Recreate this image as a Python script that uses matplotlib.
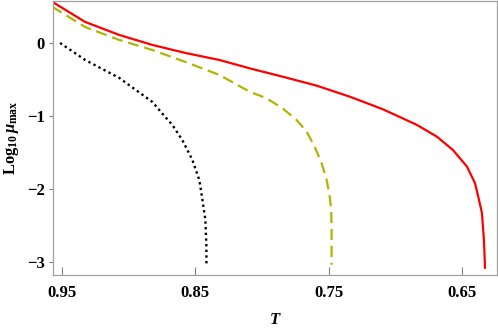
import numpy as np
import matplotlib
matplotlib.use("Agg")
from matplotlib import pyplot as plt

plt.rcParams['font.family'] = ['Liberation Serif', 'DejaVu Serif']
plt.rcParams['mathtext.fontset'] = 'custom'
plt.rcParams['mathtext.rm'] = 'Liberation Serif:bold'
plt.rcParams['mathtext.it'] = 'Liberation Serif:italic:bold'
plt.rcParams['mathtext.bf'] = 'Liberation Serif:bold'

# values
T_red = [0.9575, 0.9327, 0.9071, 0.8823, 0.8575, 0.8320, 0.8094, 0.7846,
         0.7590, 0.7342, 0.7094, 0.6838, 0.6688, 0.6568, 0.6462, 0.6402,
         0.6372, 0.6350, 0.6335, 0.6327]
mu_red = [0.566, 0.288, 0.110, -0.027, -0.137, -0.233, -0.347, -0.462,
          -0.585, -0.736, -0.908, -1.123, -1.284, -1.466, -1.695, -1.922,
          -2.151, -2.33, -2.70, -3.08]

T_yel = [0.9575, 0.9327, 0.9071, 0.8823, 0.8575, 0.8320, 0.8094, 0.7966,
         0.7846, 0.7741, 0.7665, 0.7605, 0.7553, 0.7515, 0.7492, 0.7481,
         0.7478, 0.7478]
mu_yel = [0.497, 0.219, 0.041, -0.096, -0.26, -0.438, -0.667, -0.758,
          -0.895, -1.055, -1.215, -1.421, -1.648, -1.877, -2.105, -2.29,
          -2.52, -3.04]

T_blk = [0.9515, 0.9327, 0.9071, 0.8823, 0.8718, 0.8673, 0.8598, 0.8523,
         0.8470, 0.8447, 0.8425, 0.8417, 0.8417]
mu_blk = [0.0, -0.233, -0.479, -0.808, -1.03, -1.123, -1.33, -1.60,
          -1.88, -2.15, -2.42, -2.79, -3.04]

xticks = [0.95, 0.85, 0.75, 0.65]
yticks = [0, -1, -2, -3]

fig = plt.figure(figsize=(4.98, 3.30), dpi=100)
ax = fig.add_axes([53 / 498, 1 - 275 / 330, 444 / 498, 274 / 330])

ax.plot(T_red, mu_red, color='#ff0000', lw=1.6, solid_joinstyle='round')
ax.plot(T_yel, mu_yel, color='#b3b300', lw=1.6, dashes=(5, 2.6))
ax.plot(T_blk, mu_blk, color='black', lw=1.7, linestyle=(0, (1, 1.4)))

ax.set_xlim(0.9568, 0.6237)
ax.set_ylim(-3.18, 0.575)
ax.set_xticks(xticks)
ax.set_xticklabels(['0.95', '0.85', '0.75', '0.65'])
ax.set_yticks(yticks)
ax.set_yticklabels(['0', '\u22121', '\u22122', '\u22123'])

for s in ax.spines.values():
    s.set_color('#a0a0a0')
    s.set_linewidth(0.9)

ax.tick_params(axis='x', direction='in', length=6, width=0.8, color='#808080',
               pad=7, labelsize=12)
ax.tick_params(axis='y', direction='out', length=3, width=0.8, color='#808080',
               pad=3, labelsize=12)
for lab in ax.get_xticklabels() + ax.get_yticklabels():
    lab.set_fontweight('bold')

ax.set_xlabel(r'$T$', fontsize=12, labelpad=8)
ax.set_ylabel(r'$\mathrm{Log}_{10}\,\mu_{\mathrm{max}}$', fontsize=12, labelpad=4)

fig.savefig('out.png', dpi=100)
